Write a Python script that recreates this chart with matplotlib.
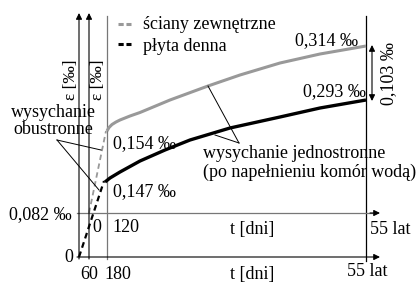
import numpy as np
import matplotlib
matplotlib.use("Agg")
import matplotlib.pyplot as plt

# schematic diagram drawn in picture units (x to the right, y downward)
# strain values shown on the chart [per mille]
eps_start_bottom = 0.082
eps_walls_120 = 0.154
eps_slab_120 = 0.147
eps_walls_55 = 0.314
eps_slab_55 = 0.293
eps_diff = 0.103

# one-sided drying curves (after filling the chambers with water)
walls_x = [107, 109, 112, 116, 120, 130, 140, 170, 208, 240, 280, 320, 366]
walls_y = [131, 127.5, 124.5, 122, 120, 116, 112.5, 100, 86, 75, 63, 54, 46]
slab_x = [105, 110, 120, 140, 165, 190, 230, 280, 320, 366]
slab_y = [182, 178, 172, 161, 150, 140, 128, 117, 108, 100]

# two-sided drying (dashed parts)
walls_dash_x = [89, 106]
walls_dash_y = [213, 131]
slab_dash_x = [79, 104]
slab_dash_y = [257, 181]

gray = "#999999"
pm = "\u2030"

def fmt(v):
    return ("%.3f" % v).replace(".", ",") + " " + pm

plt.rcParams["font.family"] = ["Liberation Serif", "DejaVu Serif"]
fs = 13

fig = plt.figure(figsize=(4.17, 2.83), dpi=100)
ax = fig.add_axes([0, 0, 1, 1])
ax.set_xlim(0, 417)
ax.set_ylim(283, 0)
ax.axis("off")

arrow = dict(arrowstyle="-|>", color="black", lw=0.8, mutation_scale=9, shrinkA=0, shrinkB=0)

# vertical axes
ax.annotate("", xy=(79, 13), xytext=(79, 259), arrowprops=arrow)
ax.annotate("", xy=(89, 13), xytext=(89, 259), arrowprops=arrow)
ax.plot([107, 107], [16, 259], color="#777777", lw=0.9)
ax.plot([366, 366], [16, 261], color="black", lw=0.9)

# horizontal axes
ax.plot([77, 372], [213, 213], color="#777777", lw=0.9)
ax.annotate("", xy=(380, 213), xytext=(370, 213), arrowprops=arrow)
ax.annotate("", xy=(380, 257), xytext=(77, 257), arrowprops=arrow)

# curves
ax.plot(walls_x, walls_y, color=gray, lw=2.2, solid_capstyle="butt", solid_joinstyle="round")
ax.plot(slab_x, slab_y, color="black", lw=2.4, solid_capstyle="butt", solid_joinstyle="round")
ax.plot(walls_dash_x, walls_dash_y, color=gray, lw=1.3, dashes=(3, 2))
ax.plot(slab_dash_x, slab_dash_y, color="black", lw=1.6, dashes=(2.6, 1.8))

# legend
ax.plot([118, 131], [24, 24], color=gray, lw=2.2, dashes=(1.7, 0.9))
ax.plot([118, 131], [44, 44], color="black", lw=2.2, dashes=(1.7, 0.9))
ax.text(143, 29, "ściany zewnętrzne", fontsize=fs, va="baseline")
ax.text(143, 51, "płyta denna", fontsize=fs, va="baseline")

# axis labels
ax.text(71, 80, "ε [" + pm + "]", fontsize=12.5, rotation=90, ha="center", va="center")
ax.text(98, 80, "ε [" + pm + "]", fontsize=12.5, rotation=90, ha="center", va="center")

# value labels
ax.text(295, 45, fmt(eps_walls_55), fontsize=fs, va="baseline")
ax.text(303, 96, fmt(eps_slab_55), fontsize=fs, va="baseline")
ax.text(113, 148, fmt(eps_walls_120), fontsize=fs, va="baseline")
ax.text(113, 196, fmt(eps_slab_120), fontsize=fs, va="baseline")
ax.text(72, 219, fmt(eps_start_bottom), fontsize=fs, va="baseline", ha="right")
ax.text(73, 257, "0", fontsize=fs, va="center", ha="right")

# difference arrow
ax.annotate("", xy=(372, 45), xytext=(372, 101),
            arrowprops=dict(arrowstyle="<|-|>", color="black", lw=0.8, mutation_scale=9,
                            shrinkA=0, shrinkB=0))
ax.text(389, 74, fmt(eps_diff), fontsize=fs, rotation=90, ha="center", va="center")

# annotations
ax.text(53, 117, "wysychanie", fontsize=fs, ha="center", va="baseline")
ax.text(53, 134, "obustronne", fontsize=fs, ha="center", va="baseline")
ax.plot([57, 101], [140, 150], color="black", lw=0.7)
ax.plot([57, 99], [140, 190], color="black", lw=0.7)

ax.text(203, 158, "wysychanie jednostronne", fontsize=fs, va="baseline")
ax.text(203, 177, "(po napełnieniu komór wodą)", fontsize=fs, va="baseline")
ax.plot([239, 208], [143, 86], color="black", lw=0.7)
ax.plot([239, 215], [143, 135], color="black", lw=0.7)

# time labels, upper scale
ax.text(92, 232, "0", fontsize=fs, va="baseline")
ax.text(112, 232, "120", fontsize=fs, va="baseline")
ax.text(230, 234, "t [dni]", fontsize=fs, va="baseline")
ax.text(370, 234, "55 lat", fontsize=fs, va="baseline")

# time labels, lower scale
ax.text(89, 279, "60", fontsize=fs, ha="center", va="baseline")
ax.text(118, 279, "180", fontsize=fs, ha="center", va="baseline")
ax.text(230, 278.5, "t [dni]", fontsize=fs, va="baseline")
ax.text(347, 276, "55 lat", fontsize=fs, va="baseline")

fig.savefig("out.png", dpi=100)
